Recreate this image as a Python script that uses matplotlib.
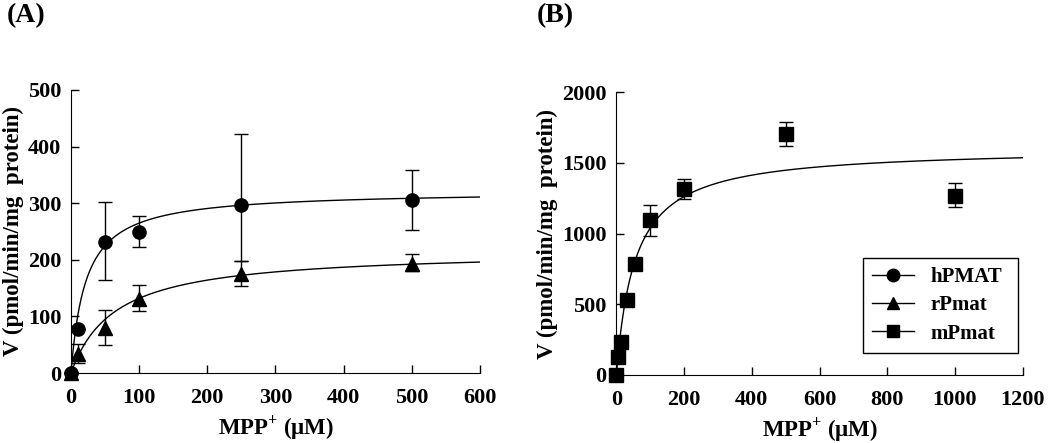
import numpy as np
import matplotlib
matplotlib.use("Agg")
import matplotlib.pyplot as plt

plt.rcParams['font.family'] = ['Liberation Serif', 'DejaVu Serif']
plt.rcParams['font.weight'] = 'bold'
plt.rcParams['mathtext.fontset'] = 'custom'
plt.rcParams['mathtext.bf'] = 'Liberation Serif:bold'

# panel A data
conc_a = [0, 10, 50, 100, 250, 500]
h_v = [0, 78, 232, 249, 296, 306]
h_err_lo = [0, 0, 67, 26, 98, 53]
h_err_hi = [0, 0, 70, 29, 127, 52]
r_v = [0, 33, 80, 131, 174, 192]
r_err_lo = [0, 15, 30, 21, 21, 12]
r_err_hi = [0, 19, 32, 24, 24, 18]

# panel B data
conc_b = [0, 5, 15, 30, 55, 100, 200, 500, 1000]
m_v = [0, 127, 235, 530, 782, 1095, 1312, 1701, 1265]
m_err_lo = [0, 0, 0, 0, 0, 112, 70, 83, 80]
m_err_hi = [0, 0, 0, 0, 0, 106, 71, 89, 90]

# Michaelis-Menten fit parameters (Vmax, Km)
h_fit = (322, 21.6)
r_fit = (217, 64.5)
m_fit = (1606, 54.6)


def mm(x, p):
    return p[0] * x / (p[1] + x)


fig = plt.figure(figsize=(10.5, 4.43), dpi=100)
ax1 = fig.add_axes([0.0676, 0.158, 0.3895, 0.639])
ax2 = fig.add_axes([0.587, 0.1535, 0.387, 0.6385])

fs = 16
for ax in (ax1, ax2):
    ax.spines['top'].set_visible(False)
    ax.spines['right'].set_visible(False)
    ax.tick_params(direction='in', length=6, width=1, labelsize=fs)
    ax.tick_params(axis='x', pad=11)
    ax.tick_params(axis='y', pad=7)
    ax.set_xlabel('MPP$^{\\mathbf{+}}$ (\u03bcM)', fontsize=16.5, fontweight='bold', labelpad=4)
    ax.set_ylabel('V (pmol/min/mg  protein)', fontsize=16.5, fontweight='bold', labelpad=3)

mk = dict(color='black', ecolor='black', elinewidth=1, capsize=5, capthick=1,
          linestyle='none', clip_on=False, zorder=3)

xa = np.linspace(0, 600, 400)
ax1.plot(xa, mm(xa, h_fit), color='black', lw=1)
ax1.plot(xa, mm(xa, r_fit), color='black', lw=1)
ax1.errorbar(conc_a, h_v, yerr=[h_err_lo, h_err_hi], marker='o', markersize=9.5, **mk)
ax1.errorbar(conc_a, r_v, yerr=[r_err_lo, r_err_hi], marker='^', markersize=10, **mk)
ax1.set_xlim(0, 600)
ax1.set_ylim(0, 500)
ax1.set_xticks(range(0, 601, 100))
ax1.set_yticks(range(0, 501, 100))

xb = np.linspace(0, 1200, 600)
ax2.plot(xb, mm(xb, m_fit), color='black', lw=1)
ax2.errorbar(conc_b, m_v, yerr=[m_err_lo, m_err_hi], marker='s', markersize=10, **mk)
ax2.set_xlim(0, 1200)
ax2.set_ylim(0, 2000)
ax2.set_xticks(range(0, 1201, 200))
ax2.set_yticks(range(0, 2001, 500))

for ax in (ax1, ax2):
    for lab in ax.get_xticklabels() + ax.get_yticklabels():
        lab.set_fontweight('bold')

# legend handles
hh, = ax2.plot([], [], color='black', lw=1, marker='o', markersize=9, label='hPMAT')
rh, = ax2.plot([], [], color='black', lw=1, marker='^', markersize=9, label='rPmat')
mh, = ax2.plot([], [], color='black', lw=1, marker='s', markersize=9, label='mPmat')
leg = ax2.legend(handles=[hh, rh, mh], loc='lower left', bbox_to_anchor=(0.607, 0.078, 0.381, 0.339),
                 mode='expand', fancybox=False, framealpha=1, edgecolor='black',
                 prop={'size': 15, 'weight': 'bold'}, handlelength=2.0, borderaxespad=0,
                 labelspacing=0.4, borderpad=0.45)
leg.get_frame().set_linewidth(1)

fig.text(0.006, 0.993, '(A)', fontsize=20, fontweight='bold', va='top')
fig.text(0.511, 0.993, '(B)', fontsize=20, fontweight='bold', va='top')

fig.savefig('out.png', dpi=100)
